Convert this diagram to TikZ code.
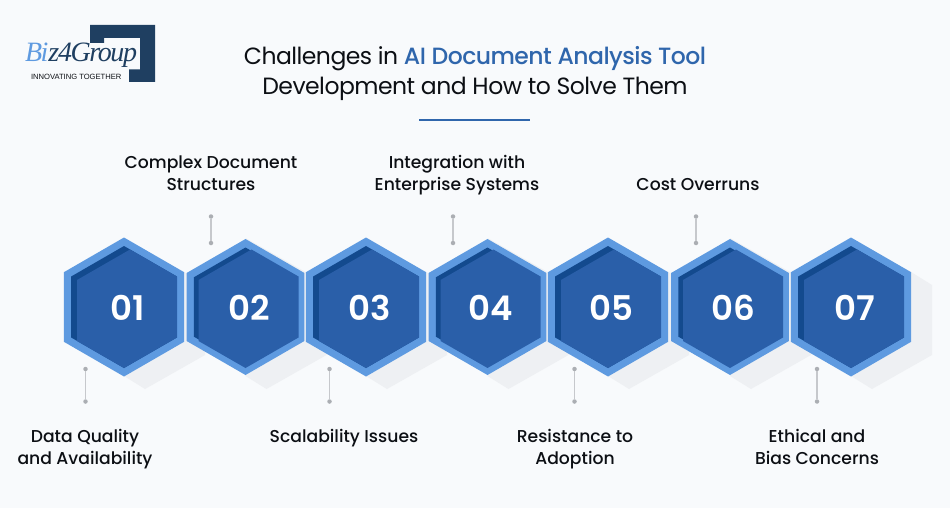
\documentclass[tikz,border=0pt]{standalone}
\usepackage{fontspec}
\setmainfont{Poppins}
\newfontfamily\widefont{Poppins Medium}
\newfontfamily\numfont{Poppins SemiBold}
\newfontfamily\logofont[LetterSpace=-5]{Liberation Serif}
\newfontfamily\tagfont{Liberation Sans}
\newcommand*{\titlefont}{\fontsize{23.5}{30}\selectfont\addfontfeature{LetterSpace=-2.2}}
\definecolor{paper}{HTML}{F8FAFC}
\definecolor{ink}{HTML}{0C0F14}
\definecolor{titleblue}{HTML}{2F66AC}
\definecolor{rim}{HTML}{5E9AE0}
\definecolor{deep}{HTML}{134A8E}
\definecolor{face}{HTML}{2A5FA9}
\definecolor{castgrey}{HTML}{EEF0F3}
\definecolor{navy}{HTML}{1F3F61}
\definecolor{lead}{HTML}{C6C8CC}
\definecolor{leaddot}{HTML}{ABAEB3}
\usetikzlibrary{shapes.geometric}
\tikzstyle{base}=[x=1pt, y=-1pt, inner sep=0pt, outer sep=0pt]
\tikzstyle{hexbox}=[regular polygon, regular polygon sides=6, shape border rotate=30]
\tikzstyle{label}=[font=\widefont\fontsize{17.2}{22}\selectfont, text=ink, align=center, anchor=base]
\tikzstyle{dotmark}=[circle, fill=leaddot, minimum size=4.5pt]
\tikzstyle{leader}=[lead, line width=1.1pt]

\begin{document}
\begin{tikzpicture}[base]
    \fill [paper] (0,0) rectangle (950,508);
    \useasboundingbox (0,0) rectangle (950,508);

    % logo
    \fill [navy] (90,25) -- (155,25) -- (155,82) -- (129,82) -- (129,69.5) -- (140,69.5)
        -- (140,38) -- (104,38) -- (104,43) -- (90,43) -- cycle;
    \node [anchor=base west, font=\logofont\itshape\fontsize{28}{28}\selectfont] (logo) at (25,62)
        {\textcolor{rim}{Bi}\textcolor{navy}{z4Group}};
    \node [anchor=base west, text=ink, font=\tagfont\fontsize{7.6}{8}\selectfont] (tagline) at (31,80)
        {INNOVATING TOGETHER};

    % title
    \node [anchor=base, font=\titlefont, text=ink] (title1) at (475,65)
        {Challenges in {\widefont\titlefont\color{titleblue}AI Document Analysis Tool}};
    \node [anchor=base, font=\titlefont, text=ink] (title2) at (475,95)
        {Development and How to Solve Them};
    \coordinate (ruleL) at (419,120);
    \coordinate (ruleR) at (530,120);
    \draw [titleblue, line width=1.6pt] (ruleL) -- (ruleR);

    % shadows
    \foreach \cx in {124,245.5,366,487.5,608,730,851} {
        \fill [castgrey] (\cx,238) -- (\cx+60,272) -- (\cx+81,285) -- (\cx+81,355) -- (\cx+21,389) -- (\cx,376) -- cycle;
    }

    % hexagons
    \foreach \cx/\hs/\n in {124/139/1,245.5/136/2,366/139/3,487.5/136/4,608/139/5,730/136/6,851/139/7} {
        \node [hexbox, fill=rim, minimum size=\hs pt] (hex\n) at (\cx,307) {};
        \node [hexbox, fill=deep, minimum size=\hs pt - 17pt] (core\n) at (\cx,307) {};
        \fill [face] (\cx+6,307-57.5) -- (\cx+53,307-30.5) -- (\cx+53,307+30.5) -- (\cx,307+61)
            -- (\cx-47,307+34) -- (\cx-47,307-27) -- cycle;
        \node [anchor=base, text=white, font=\numfont\fontsize{34}{34}\selectfont] (num\n) at (\cx+3.5,320) {0\n};
    }

    % connectors below
    \foreach \cx/\n in {85.5/1,329.5/3,574.5/5,817/7} {
        \node [dotmark] (low\n a) at (\cx,369) {};
        \node [dotmark] (low\n b) at (\cx,401.5) {};
        \draw [leader] (low\n a) -- (low\n b);
    }
    % connectors above
    \foreach \cx/\n in {211/2,453/4,696/6} {
        \node [dotmark] (up\n a) at (\cx,216.5) {};
        \node [dotmark] (up\n b) at (\cx,243) {};
        \draw [leader] (up\n a) -- (up\n b);
    }

    % labels
    \node [label] (lab2a) at (211,168) {Complex Document};
    \node [label] (lab2b) at (211,190) {Structures};
    \node [label] (lab4a) at (457,168) {Integration with};
    \node [label] (lab4b) at (457,190) {Enterprise Systems};
    \node [label] (lab6) at (698,190) {Cost Overruns};
    \node [label] (lab1a) at (85,442) {Data Quality};
    \node [label] (lab1b) at (85,464) {and Availability};
    \node [label] (lab3) at (344,442) {Scalability Issues};
    \node [label] (lab5a) at (575,442) {Resistance to};
    \node [label] (lab5b) at (575,464) {Adoption};
    \node [label] (lab7a) at (817,442) {Ethical and};
    \node [label] (lab7b) at (817,464) {Bias Concerns};
\end{tikzpicture}
\end{document}
